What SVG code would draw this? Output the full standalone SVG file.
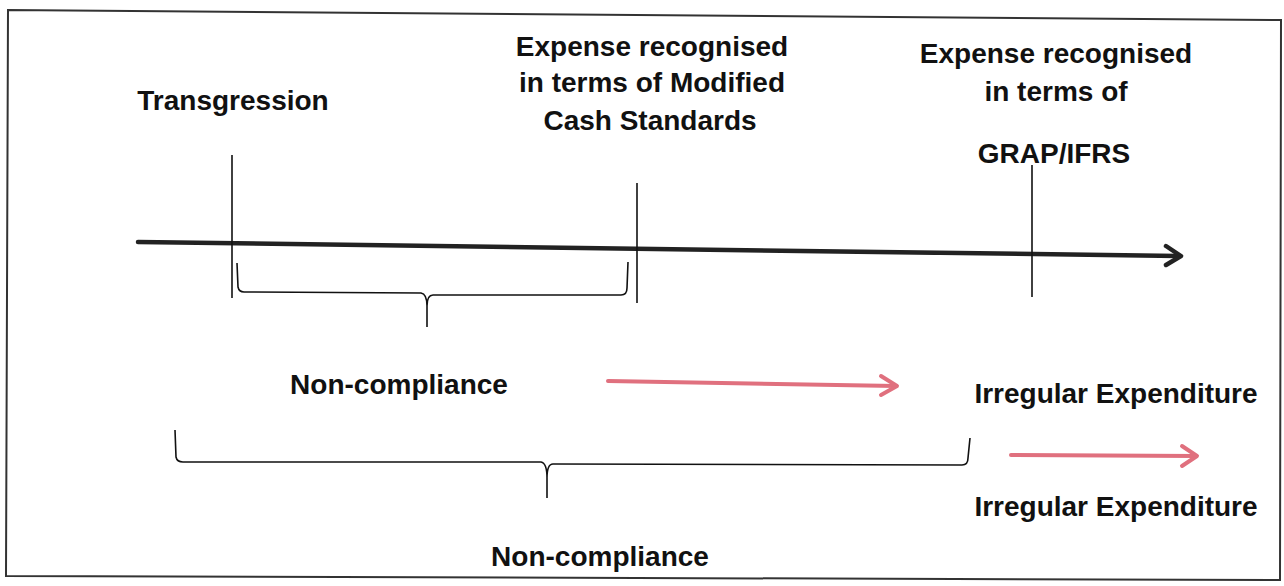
<svg xmlns="http://www.w3.org/2000/svg" width="1284" height="586" viewBox="0 0 1284 586">
<defs>
<style>
.t{font-family:"Liberation Sans",Arial,sans-serif;font-weight:bold;font-size:28px;fill:#111}
.ln{stroke:#111;stroke-width:1.6;fill:none}
.br{stroke:#111;stroke-width:1.6;fill:none}
.pk{stroke:#e0707e;stroke-width:4;fill:none;stroke-linecap:round;stroke-linejoin:round}
.ax{stroke:#222;stroke-width:4.5;fill:none;stroke-linecap:round;stroke-linejoin:round}
</style>
</defs>
<rect width="1284" height="586" fill="#fff"/>
<path d="M8,10 L1281,20 L1280,580 L6,576 Z" fill="none" stroke="#333" stroke-width="2"/>
<g id="connectors">
<path class="ax" d="M138,242 L1178,256"/>
<path class="ax" d="M1166,246 L1181,256 L1166,265"/>
<line class="ln" x1="232" y1="155" x2="232" y2="298"/>
<line class="ln" x1="637" y1="183" x2="637" y2="303"/>
<line class="ln" x1="1032" y1="165" x2="1032" y2="297"/>
<path class="br" d="M237,263 L238,287 Q239,292 244,292 L421,293 Q427,294 427,306 L427,327 M427,306 Q427,295 433,295 L621,295 Q627,295 627,288 L628,262"/>
<path class="br" d="M175,430 L176,457 Q177,462 183,462 L541,462 Q547,463 547,478 L547,498 M547,478 Q547,464 553,464 L962,465 Q968,465 968,458 L970,438"/>
<path class="pk" d="M608,381 L896,386"/>
<path class="pk" d="M881,376 L897,386 L881,395"/>
<path class="pk" d="M1011,455 L1196,456"/>
<path class="pk" d="M1182,446 L1197,456 L1182,466"/>
</g>
<g id="transgression"><text class="t" x="233" y="110" text-anchor="middle">Transgression</text></g>
<g id="modified-cash"><text class="t" text-anchor="middle"><tspan x="652" y="56">Expense recognised</tspan><tspan x="652" y="92">in terms of Modified</tspan><tspan x="650" y="130">Cash Standards</tspan></text></g>
<g id="grap-ifrs"><text class="t" text-anchor="middle"><tspan x="1056" y="63">Expense recognised</tspan><tspan x="1056" y="101">in terms of</tspan><tspan x="1054" y="163">GRAP/IFRS</tspan></text></g>
<g id="non-compliance-1"><text class="t" x="399" y="394" text-anchor="middle">Non-compliance</text></g>
<g id="irregular-1"><text class="t" x="1116" y="403" text-anchor="middle">Irregular Expenditure</text></g>
<g id="irregular-2"><text class="t" x="1116" y="516" text-anchor="middle">Irregular Expenditure</text></g>
<g id="non-compliance-2"><text class="t" x="600" y="566" text-anchor="middle">Non-compliance</text></g>
</svg>
